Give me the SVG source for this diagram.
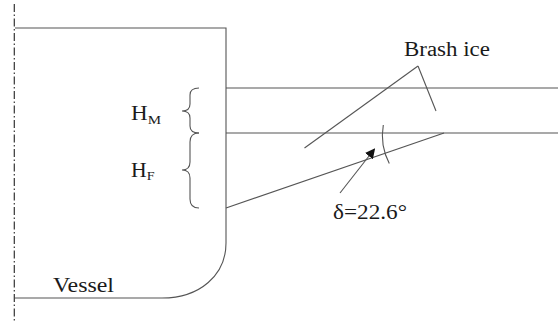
<svg xmlns="http://www.w3.org/2000/svg" width="558" height="322" viewBox="0 0 558 322">
<defs>
<style>
.ln{fill:none;stroke:#555;stroke-width:1.1}
.tx{font-family:'Liberation Serif',serif;fill:#1a1a1a}
</style>
<marker id="ah" viewBox="0 0 10 10" refX="9" refY="5" markerWidth="10" markerHeight="10" markerUnits="userSpaceOnUse" orient="auto">
<path d="M0,0 L10,5 L0,10 z" fill="#111"/>
</marker>
</defs>
<rect width="558" height="322" fill="#fff"/>
<g id="centerline">
<line x1="14.3" y1="4" x2="14.3" y2="322" stroke="#333" stroke-width="1.2" stroke-dasharray="8 2.5 1.5 2.5"/>
</g>
<g id="vessel">
<path class="ln" d="M15,28 L226,28 L226,243 C226,275 200,298 162,298 L15,298"/>
<text class="tx" x="53" y="291.5" font-size="21" textLength="61" lengthAdjust="spacingAndGlyphs">Vessel</text>
</g>
<g id="brash-ice">
<line class="ln" x1="226" y1="88" x2="558" y2="88"/>
<line class="ln" x1="226" y1="133" x2="558" y2="133"/>
<line class="ln" x1="226" y1="208" x2="444" y2="133"/>
<text class="tx" x="404" y="56" font-size="20" textLength="86" lengthAdjust="spacingAndGlyphs">Brash ice</text>
</g>
<g id="h-m">
<path class="ln" d="M199,88 Q190,88 190,95 L190,104 Q190,111 182,111 Q190,111 190,118 L190,126 Q190,133 199,133"/>
<text class="tx" x="131" y="120" font-size="20" textLength="30" lengthAdjust="spacingAndGlyphs">H<tspan font-size="13" dy="4">M</tspan></text>
</g>
<g id="h-f">
<path class="ln" d="M199,133 Q190,133 190,142 L190,162 Q190,170 182,170 Q190,170 190,178 L190,199 Q190,208 199,208"/>
<text class="tx" x="131" y="176.5" font-size="20" textLength="23.5" lengthAdjust="spacingAndGlyphs">H<tspan font-size="13" dy="3.5">F</tspan></text>
</g>
<g id="connectors">
<line class="ln" x1="418" y1="66" x2="304.5" y2="148"/>
<line class="ln" x1="418" y1="66" x2="436" y2="111"/>
<path class="ln" d="M383.3,125 A61,61 0 0 0 389.3,163.5"/>
<line class="ln" x1="340" y1="193" x2="374.5" y2="149" marker-end="url(#ah)"/>
</g>
<g id="angle-label">
<text class="tx" x="333" y="218.5" font-size="20" textLength="74" lengthAdjust="spacingAndGlyphs">δ=22.6°</text>
</g>
</svg>
